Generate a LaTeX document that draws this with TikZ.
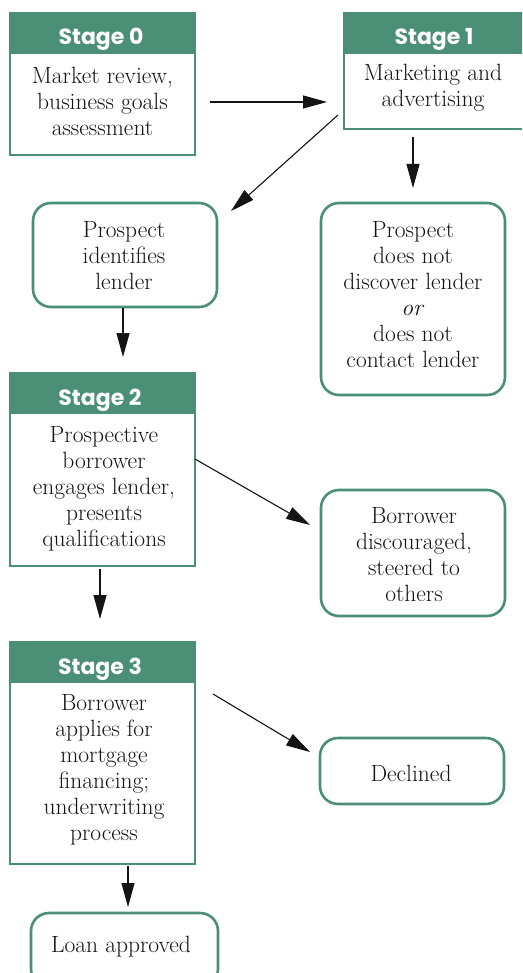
\documentclass[tikz,border=0pt]{standalone}
\usepackage{fontspec}
\newfontfamily\headfont{Poppins}
\usetikzlibrary{arrows.meta}
\definecolor{sgreen}{RGB}{76,143,119}
\definecolor{ink}{RGB}{20,20,20}
\begin{document}
\begin{tikzpicture}[x=1pt,y=1pt,
  stageframe/.style={draw=sgreen,line width=2.8pt,minimum width=185pt,inner sep=0pt,fill=white},
  stagehead/.style={fill=sgreen,minimum width=185pt,minimum height=41pt,inner sep=0pt},
  headtext/.style={anchor=base,text=white,font=\headfont\bfseries\fontsize{22}{25}\selectfont,inner sep=0pt},
  bodytext/.style={align=center,inner sep=0pt,text=ink,font=\fontsize{23.5}{26}\selectfont},
  rbox/.style={draw=sgreen,line width=2.6pt,rounded corners=18pt,inner sep=0pt,fill=white},
  arr/.style={draw=ink,line width=1.1pt,-{Triangle[length=24pt,width=13pt]}}]
\useasboundingbox (0,0) rectangle (522,-973);
\clip (0,0) rectangle (522,-973);
\fill[white] (0,0) rectangle (522,-973);

% Stage 0
\node[stageframe,minimum height=142pt] (s0) at (102.5,-84) {};
\node[stagehead] (s0h) at (102.5,-33.5) {};
\node[headtext] (s0t) at (101,-45) {Stage 0};
\node[bodytext] (s0b) at (102.5,-101) {Market review,\\business goals\\assessment};

% Stage 1
\node[stageframe,minimum height=116pt] (s1) at (436.5,-71) {};
\node[stagehead] (s1h) at (436.5,-33.5) {};
\node[headtext] (s1t) at (434,-45) {Stage 1};
\node[bodytext] (s1b) at (433,-88) {Marketing and\\advertising};

% Prospect identifies lender
\node[rbox,minimum width=184pt,minimum height=104pt] (p1) at (125,-255) {};
\node[bodytext] (p1b) at (124,-256) {Prospect\\identifies\\lender};
% Prospect does not discover
\node[rbox,minimum width=184pt,minimum height=192pt] (n1) at (413,-299) {};
\node[bodytext] (n1b) at (413,-294.5) {Prospect\\does not\\discover lender\\\textit{or}\\does not\\contact lender};

% Stage 2
\node[stageframe,minimum height=193pt] (s2) at (102.5,-469.5) {};
\node[stagehead] (s2h) at (102.5,-393.5) {};
\node[headtext] (s2t) at (100,-405) {Stage 2};
\node[bodytext] (s2b) at (104,-488.5) {Prospective\\borrower\\engages lender,\\presents\\qualifications};

% Borrower discouraged
\node[rbox,minimum width=184pt,minimum height=126pt] (d1) at (413,-553) {};
\node[bodytext] (d1b) at (414,-555) {Borrower\\discouraged,\\steered to\\others};

% Stage 3
\node[stageframe,minimum height=222pt] (s3) at (102.5,-753) {};
\node[stagehead] (s3h) at (102.5,-662.5) {};
\node[headtext] (s3t) at (100,-674) {Stage 3};
\node[bodytext] (s3b) at (104,-770) {Borrower\\applies for\\mortgage\\financing;\\underwriting\\process};

% Declined
\node[rbox,minimum width=184pt,minimum height=66pt] (dec) at (412,-771) {};
\node[bodytext] (decb) at (411,-773) {Declined};
% Loan approved
\node[rbox,minimum width=187pt,minimum height=74pt] (loan) at (124.5,-950) {};
\node[bodytext] (loanb) at (121,-947) {Loan approved};

% connector endpoints
\coordinate (a01s) at (210,-102);
\coordinate (a01e) at (327,-102);
\coordinate (a1ps) at (338,-115);
\coordinate (a1pe) at (231,-211);
\coordinate (a1ns) at (413,-137);
\coordinate (a1ne) at (413,-188);
\coordinate (ap2s) at (123,-308);
\coordinate (ap2e) at (123,-357);
\coordinate (a2ds) at (195,-459);
\coordinate (a2de) at (310,-525);
\coordinate (a23s) at (100,-569);
\coordinate (a23e) at (100,-619);
\coordinate (a3ds) at (213,-694);
\coordinate (a3de) at (310,-752);
\coordinate (a3ls) at (128,-866);
\coordinate (a3le) at (128,-907);

\draw[arr] (a01s) -- (a01e);
\draw[arr] (a1ps) -- (a1pe);
\draw[arr] (a1ns) -- (a1ne);
\draw[arr] (ap2s) -- (ap2e);
\draw[arr] (a2ds) -- (a2de);
\draw[arr] (a23s) -- (a23e);
\draw[arr] (a3ds) -- (a3de);
\draw[arr] (a3ls) -- (a3le);
\end{tikzpicture}
\end{document}
